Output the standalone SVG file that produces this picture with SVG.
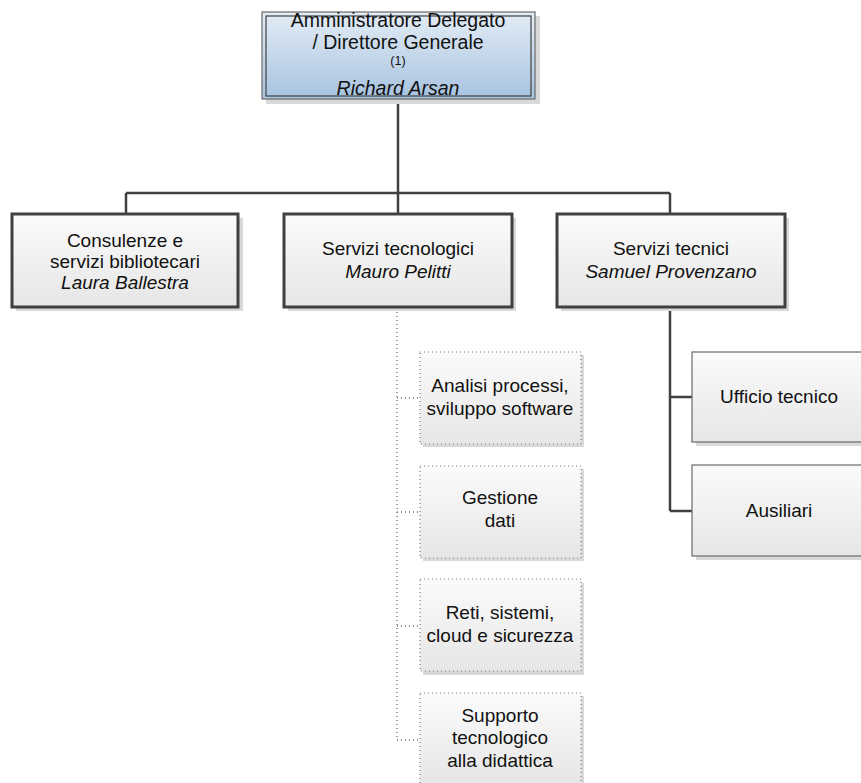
<svg xmlns="http://www.w3.org/2000/svg" width="861" height="783" viewBox="0 0 861 783">
<defs>
<linearGradient id="gBlue" x1="0" y1="0" x2="0" y2="1">
<stop offset="0" stop-color="#e3ecf6"/>
<stop offset="1" stop-color="#a7c3df"/>
</linearGradient>
<linearGradient id="gGray" x1="0" y1="0" x2="0" y2="1">
<stop offset="0" stop-color="#fbfbfb"/>
<stop offset="1" stop-color="#e6e6e6"/>
</linearGradient>
</defs>
<style>
text{font-family:"Liberation Sans",Arial,sans-serif;fill:#111;text-anchor:middle}
.t{font-size:19px}
.h{font-size:19.5px}
.i{font-style:italic}
.shadow{fill:#d9d9d9}
.main{fill:url(#gGray);stroke:#404040;stroke-width:3}
.sub{fill:url(#gGray);stroke:#6a6a6a;stroke-width:1.2}
.dot{fill:url(#gGray);stroke:#7a7a7a;stroke-width:1.2;stroke-dasharray:1 3}
.conn{fill:none;stroke:#404040;stroke-width:2.5}
.dconn{fill:none;stroke:#6a6a6a;stroke-width:1.3;stroke-dasharray:1 3}
</style>
<g id="connectors">
<path class="conn" d="M398 99V193M126 193H670M126 193V214M398 193V214M670 193V214"/>
<path class="conn" d="M670 307V511M670 397H693M670 511H693"/>
<path class="dconn" d="M397 308V740M397 398H420M397 512H420M397 626H420M397 740H420"/>
</g>
<g id="n-ad">
<rect class="shadow" x="266" y="16" width="274" height="88"/>
<rect x="262" y="12" width="273" height="87" fill="url(#gBlue)" stroke="#6a6a6a" stroke-width="1.2"/>
<rect x="266" y="16" width="265" height="80" fill="none" stroke="#404040" stroke-width="1.2"/>
<text class="h" x="398" y="27">Amministratore Delegato</text>
<text class="h" x="398" y="49">/ Direttore Generale</text>
<text x="398" y="65" style="font-size:12.5px">(1)</text>
<text class="h i" x="398" y="95">Richard Arsan</text>
</g>
<g id="n-consulenze">
<rect class="shadow" x="16" y="218" width="227" height="93"/>
<rect class="main" x="12" y="214" width="226" height="93"/>
<text class="t" x="125" y="247">Consulenze e</text>
<text class="t" x="125" y="268">servizi bibliotecari</text>
<text class="t i" x="125" y="289">Laura Ballestra</text>
</g>
<g id="n-tecnologici">
<rect class="shadow" x="288" y="218" width="228" height="93"/>
<rect class="main" x="284" y="214" width="228" height="93"/>
<text class="t" x="398" y="255">Servizi tecnologici</text>
<text class="t i" x="398" y="278">Mauro Pelitti</text>
</g>
<g id="n-tecnici">
<rect class="shadow" x="561" y="218" width="228" height="93"/>
<rect class="main" x="557" y="214" width="228" height="93"/>
<text class="t" x="671" y="255">Servizi tecnici</text>
<text class="t i" x="671" y="278">Samuel Provenzano</text>
</g>
<g id="n-analisi">
<rect class="shadow" x="423" y="355" width="161" height="92"/>
<rect class="dot" x="420" y="352" width="161" height="92"/>
<text class="t" x="500" y="392">Analisi processi,</text>
<text class="t" x="500" y="415">sviluppo software</text>
</g>
<g id="n-gestione">
<rect class="shadow" x="423" y="469" width="161" height="92"/>
<rect class="dot" x="420" y="466" width="161" height="92"/>
<text class="t" x="500" y="504">Gestione</text>
<text class="t" x="500" y="527">dati</text>
</g>
<g id="n-reti">
<rect class="shadow" x="423" y="583" width="161" height="92"/>
<rect class="dot" x="420" y="579" width="161" height="92"/>
<text class="t" x="500" y="619">Reti, sistemi,</text>
<text class="t" x="500" y="642">cloud e sicurezza</text>
</g>
<g id="n-supporto">
<rect class="shadow" x="423" y="696" width="161" height="92"/>
<rect class="dot" x="420" y="693" width="161" height="92"/>
<text class="t" x="500" y="722">Supporto</text>
<text class="t" x="500" y="744">tecnologico</text>
<text class="t" x="500" y="767">alla didattica</text>
</g>
<g id="n-ufficio">
<rect class="shadow" x="696" y="355" width="170" height="91"/>
<rect class="sub" x="692" y="352" width="172" height="90"/>
<text class="t" x="779" y="403">Ufficio tecnico</text>
</g>
<g id="n-ausiliari">
<rect class="shadow" x="696" y="469" width="170" height="91"/>
<rect class="sub" x="692" y="465" width="172" height="91"/>
<text class="t" x="779" y="517">Ausiliari</text>
</g>
</svg>
